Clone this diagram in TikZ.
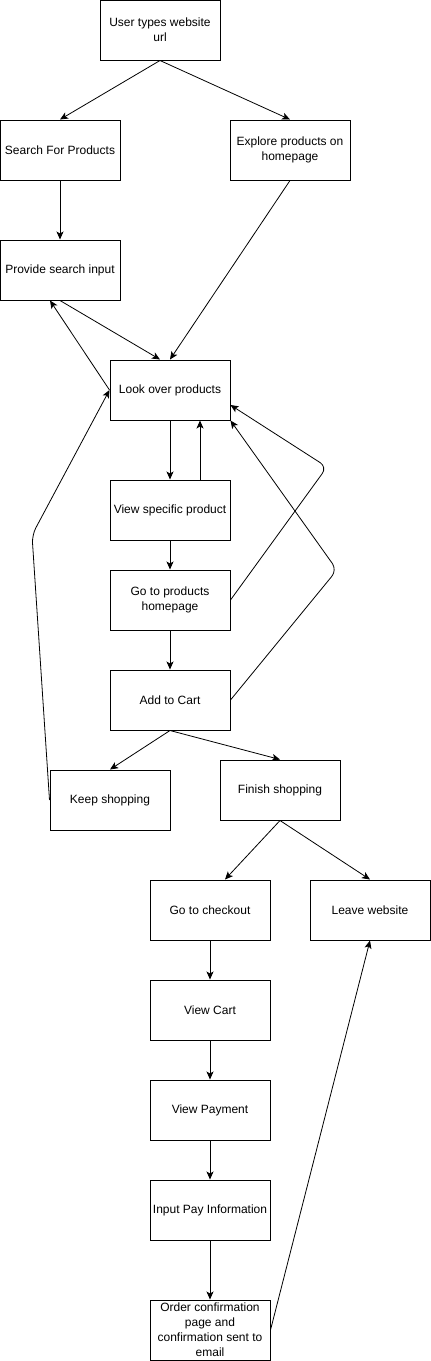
\documentclass[tikz,border=0pt]{standalone}
\usepackage{fontspec}
\setmainfont{Liberation Sans}
\usetikzlibrary{arrows.meta}
\begin{document}
\begin{tikzpicture}[x=1pt,y=-1pt,
  box/.style={draw,line width=1pt,minimum width=120pt,minimum height=60pt,inner sep=1pt,align=center,font=\fontsize{12pt}{15pt}\selectfont},
  arr/.style={line width=0.8pt,-{Stealth[length=8pt,width=7pt,inset=2pt]}},
  bentarr/.style={arr,rounded corners=8pt}]
\useasboundingbox (0,0) rectangle (431,1361);
\node[box] (user) at (160,30) {User types website\\url};
\node[box] (search) at (60,150) {Search For Products};
\node[box] (explore) at (290,150) {Explore products on\\homepage};
\node[box] (provide) at (60,270) {Provide search input};
\node[box] (look) at (170,390) {Look over products};
\node[box] (view) at (170,510) {View specific product};
\node[box] (goto) at (170,600) {Go to products\\homepage};
\node[box] (add) at (170,700) {Add to Cart};
\node[box] (keep) at (110,800) {Keep shopping};
\node[box] (finish) at (280,790) {Finish shopping};
\node[box] (checkout) at (210,910) {Go to checkout};
\node[box] (leave) at (370,910) {Leave website};
\node[box] (cart) at (210,1010) {View Cart};
\node[box] (payment) at (210,1110) {View Payment};
\node[box] (input) at (210,1210) {Input Pay Information};
\node[box] (order) at (210,1330) {Order confirmation\\page and\\confirmation sent to\\email};
\coordinate (b1) at (327,467);
\coordinate (b2) at (337,570);
\coordinate (b3) at (32,535);
\draw[arr] (user.south) -- (search.north);
\draw[arr] (user.south) -- (explore.north);
\draw[arr] (search.south) -- (provide.north);
\draw[arr] (explore.south) -- (look.north);
\draw[arr] (provide.south) -- ([xshift=-10pt]look.north);
\draw[arr] (look.west) -- ([xshift=-10pt]provide.south);
\draw[arr] (look.south) -- (view.north);
\draw[arr] ([xshift=30pt]view.north) -- ([xshift=30pt]look.south);
\draw[arr] (view.south) -- (goto.north);
\draw[bentarr] (goto.east) -- (b1) -- ([yshift=-15pt]look.east);
\draw[arr] (goto.south) -- (add.north);
\draw[bentarr] (add.east) -- (b2) -- (look.south east);
\draw[arr] (add.south) -- (keep.north);
\draw[arr] (add.south) -- (finish.north);
\draw[bentarr] (keep.west) -- (b3) -- (look.west);
\draw[arr] (finish.south) -- ([xshift=15pt]checkout.north);
\draw[arr] (finish.south) -- (leave.north);
\draw[arr] (checkout.south) -- (cart.north);
\draw[arr] (cart.south) -- (payment.north);
\draw[arr] (payment.south) -- (input.north);
\draw[arr] (input.south) -- (order.north);
\draw[arr] (order.east) -- (leave.south);
\end{tikzpicture}
\end{document}
